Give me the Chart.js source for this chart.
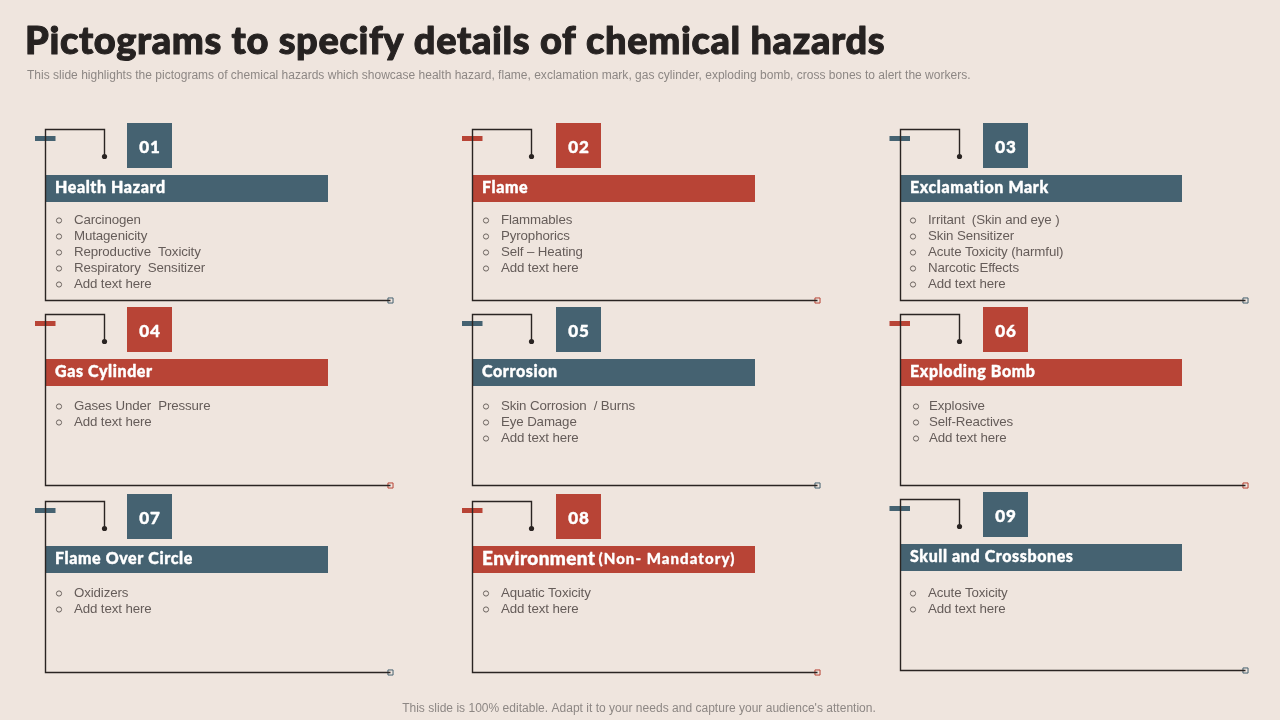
<!DOCTYPE html>
<html>
<head>
<meta charset="utf-8">
<title>Pictograms to specify details of chemical hazards</title>
<script src="https://cdn.jsdelivr.net/npm/chart.js@4"></script>
<style>
    html, body { margin: 0; padding: 0; background: #efe5de; }
    canvas { display: block; }
</style>
</head>
<body>
<canvas id="slide" width="1280" height="720"></canvas>
<script>
// text of the slide
const slideTitle = "Pictograms to specify details of chemical hazards";
const slideSubtitle = "This slide highlights the pictograms of chemical hazards which showcase health hazard, flame, exclamation mark, gas cylinder, exploding bomb, cross bones to alert the workers.";
const slideFooter = "This slide is 100% editable. Adapt it to your needs and capture your audience's attention.";

const hazardNumbers = ["01", "02", "03", "04", "05", "06", "07", "08", "09"];
const hazardNames = ["Health Hazard", "Flame", "Exclamation Mark", "Gas Cylinder", "Corrosion", "Exploding Bomb", "Flame Over Circle", "Environment", "Skull and Crossbones"];
const hazardNotes = ["", "", "", "", "", "", "", "(Non- Mandatory)", ""];
const hazardItems = [
    ["Carcinogen", "Mutagenicity", "Reproductive  Toxicity", "Respiratory  Sensitizer", "Add text here"],
    ["Flammables", "Pyrophorics", "Self – Heating", "Add text here"],
    ["Irritant  (Skin and eye )", "Skin Sensitizer", "Acute Toxicity (harmful)", "Narcotic Effects", "Add text here"],
    ["Gases Under  Pressure", "Add text here"],
    ["Skin Corrosion  / Burns", "Eye Damage", "Add text here"],
    ["Explosive", "Self-Reactives", "Add text here"],
    ["Oxidizers", "Add text here"],
    ["Aquatic Toxicity", "Add text here"],
    ["Acute Toxicity", "Add text here"]
];

// layout of the cards, in slide pixels
const cardLeft = [45.5, 472.5, 900.5, 45.5, 472.5, 900.5, 45.5, 472.5, 900.5];
const cardTop = [129.5, 129.5, 129.5, 314.5, 314.5, 314.5, 501.5, 501.5, 499.5];
const barTop = [175, 175, 175, 359, 359, 359, 546, 546, 544];
const barWidth = [282.5, 282.5, 281.5, 282.5, 282.5, 281.5, 282.5, 282.5, 281.5];
const boxLeft = [127, 556, 983, 127, 556, 983, 127, 556, 983];
const dashLeft = [35, 462, 889.5, 35, 462, 889.5, 35, 462, 889.5];
const itemTextLeft = [74, 501, 928, 74, 501, 929, 74, 501, 928];
const itemBulletLeft = [59, 486, 913, 59, 486, 916, 59, 486, 913];
const itemFirstRow = [220.5, 220.5, 220.5, 406.5, 406.5, 406.5, 593.5, 593.5, 593.5];
const cardColor = ["blue", "red", "blue", "red", "blue", "red", "blue", "red", "blue"];

const COLORS = { blue: "#456271", red: "#b84436", line: "#2a2422", bg: "#efe5de", title: "#262221", body: "#655c59", bullet: "#6e6561", note: "#8d8784" };
const CARD_H = 171, CARD_W = 345, ROW_H = 16;

// frames, dots and bullets are built as datasets from the layout above
function buildDatasets() {
    let sets = [];
    hazardNames.forEach(function(name, i) {
        let x = cardLeft[i], y = cardTop[i];
        sets.push({
            data: [{x: x + 59, y: y + 27}, {x: x + 59, y: y}, {x: x, y: y}, {x: x, y: y + CARD_H}, {x: x + CARD_W, y: y + CARD_H}],
            showLine: true, borderColor: COLORS.line, borderWidth: 1.4, pointRadius: 0, tension: 0
        });
        sets.push({
            data: [{x: x + 59, y: y + 27}],
            pointStyle: "circle", pointRadius: 2.6, backgroundColor: COLORS.line, borderWidth: 0
        });
        sets.push({
            data: [{x: x + CARD_W, y: y + CARD_H}],
            pointStyle: "rect", pointRadius: 3.6, backgroundColor: COLORS.bg, borderColor: COLORS[cardColor[i]], borderWidth: 1
        });
        sets.push({
            data: hazardItems[i].map(function(item, row) { return {x: itemBulletLeft[i], y: itemFirstRow[i] + row * ROW_H}; }),
            pointStyle: "circle", pointRadius: 2.6, backgroundColor: "rgba(0,0,0,0)", borderColor: COLORS.bullet, borderWidth: 1
        });
    });
    return sets;
}

function drawText(ctx, text, x, y, font, color, spacing, align, weight) {
    ctx.font = font;
    ctx.fillStyle = color;
    ctx.letterSpacing = (spacing || 0) + "px";
    ctx.textAlign = align || "left";
    ctx.textBaseline = "middle";
    // the display face of the slide is heavier than Lato, a thin stroke closes the gap
    if (weight) {
        ctx.strokeStyle = color;
        ctx.lineWidth = weight;
        ctx.lineJoin = "round";
        ctx.strokeText(text, x, y);
    }
    ctx.fillText(text, x, y);
    ctx.letterSpacing = "0px";
}

// bars and number boxes sit under the lines, the text goes on top
const slidePlugin = {
    id: "slidePlugin",
    beforeDatasetsDraw(chart) {
        let ctx = chart.ctx, sx = chart.scales.x, sy = chart.scales.y;
        ctx.save();
        ctx.fillStyle = COLORS.bg;
        ctx.fillRect(0, 0, chart.width, chart.height);
        hazardNames.forEach(function(name, i) {
            let x = sx.getPixelForValue(cardLeft[i]), y = sy.getPixelForValue(cardTop[i]);
            let bar = sy.getPixelForValue(barTop[i]);
            ctx.fillStyle = COLORS[cardColor[i]];
            ctx.fillRect(sx.getPixelForValue(dashLeft[i]), y + 6.5, 20.5, 5);
            ctx.fillRect(sx.getPixelForValue(boxLeft[i]), bar - 52, 45, 45);
            ctx.fillRect(x, bar, barWidth[i], 27);
        });
        ctx.restore();
    },
    afterDatasetsDraw(chart) {
        let ctx = chart.ctx, sx = chart.scales.x, sy = chart.scales.y;
        ctx.save();
        drawText(ctx, slideTitle, 25, 42, "900 38px Lato", COLORS.title, 0.63, "left", 1);
        drawText(ctx, slideSubtitle, 27, 76, "12px 'Liberation Sans'", COLORS.note, 0.01);
        drawText(ctx, slideFooter, 639, 709, "12px 'Liberation Sans'", COLORS.note, 0.02, "center");
        hazardNames.forEach(function(name, i) {
            let x = sx.getPixelForValue(cardLeft[i]), bar = sy.getPixelForValue(barTop[i]);
            drawText(ctx, hazardNumbers[i], sx.getPixelForValue(boxLeft[i]) + 23, bar - 27, "900 17px Lato", "#ffffff", 1, "center", 0.4);
            let big = hazardNotes[i] !== "";
            drawText(ctx, name, x + 9.5, bar + 12.5, "900 " + (big ? 19 : 16) + "px Lato", "#ffffff", big ? 0.4 : 0.6, "left", 0.4);
            if (big) {
                drawText(ctx, hazardNotes[i], x + 126, bar + 13.5, "900 15px Lato", "#ffffff", 1.05, "left", 0.3);
            }
            hazardItems[i].forEach(function(item, row) {
                drawText(ctx, item, sx.getPixelForValue(itemTextLeft[i]), sy.getPixelForValue(itemFirstRow[i] + row * ROW_H), "13.3px 'Liberation Sans'", COLORS.body, -0.12);
            });
        });
        ctx.restore();
    }
};

new Chart(document.getElementById("slide"), {
    type: "scatter",
    data: { datasets: buildDatasets() },
    plugins: [slidePlugin],
    options: {
        responsive: false,
        animation: false,
        clip: false,
        layout: { padding: 0, autoPadding: false },
        plugins: { legend: { display: false }, tooltip: { enabled: false } },
        scales: {
            x: { type: "linear", min: 0, max: 1280, display: false },
            y: { type: "linear", min: 0, max: 720, reverse: true, display: false }
        }
    }
});
</script>
</body>
</html>
